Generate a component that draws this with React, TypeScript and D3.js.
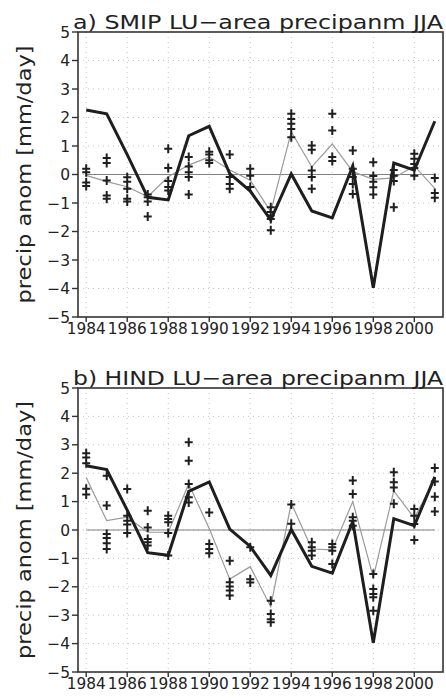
import React from "react";
import * as d3 from "d3";

const years = [1984, 1985, 1986, 1987, 1988, 1989, 1990, 1991, 1992, 1993, 1994, 1995, 1996, 1997, 1998, 1999, 2000, 2001];
const obs = [2.26, 2.13, 0.7, -0.8, -0.89, 1.36, 1.69, 0.03, -0.58, -1.6, 0.02, -1.28, -1.52, 0.3, -3.97, 0.4, 0.15, 1.87];
const smipMean = [-0.03, -0.25, -0.43, -0.78, -0.08, 0.33, 0.62, 0.16, -0.2, -1.3, 1.5, 0.27, 1.07, 0.1, -0.17, -0.12, 0.3, -0.49];
const hindMean = [1.85, 0.33, 0.45, -0.08, -0.08, 1.62, 0.05, -1.73, -1.29, -2.7, 0.95, -0.67, -0.7, 1.0, -1.67, 1.38, 0.42, 1.8];

const smipMembers = [
  [0.2, 0.08, -0.28, -0.4],
  [0.58, 0.4, -0.21, -0.74, -0.85],
  [-0.1, -0.25, -0.5, -0.85, -0.95],
  [-0.7, -0.8, -0.95, -1.47],
  [0.9, 0.23, -0.23, -0.44, -0.56],
  [0.61, 0.28, 0.08, -0.09, -0.7],
  [0.8, 0.7, 0.5, 0.4],
  [0.7, -0.09, -0.33, -0.5],
  [0.2, -0.04, -0.44],
  [-1.15, -1.32, -1.44, -1.56, -1.96],
  [2.13, 1.95, 1.78, 1.6, 1.31],
  [1.02, 0.87, 0.14, -0.09, -0.5],
  [2.13, 1.54, 0.61, 0.47],
  [0.84, 0.2, -0.09, -0.33, -0.68],
  [0.43, -0.05, -0.25, -0.45, -0.7],
  [0.16, -0.04, -0.23, -1.15],
  [0.73, 0.55, 0.37, 0.23, -0.04],
  [-0.12, -0.65, -0.82],
];

const hindMembers = [
  [2.7, 2.55, 2.35, 1.45, 1.25],
  [1.91, 0.86, -0.14, -0.28, -0.47, -0.67],
  [1.44, 0.5, 0.33, 0.19, -0.11],
  [0.68, 0.09, -0.32, -0.43, -0.55],
  [0.5, 0.39, 0.27, -0.11, -0.9],
  [3.09, 2.44, 1.62, 1.15, 0.97],
  [0.62, -0.49, -0.67, -0.82],
  [-1.08, -1.84, -1.99, -2.13, -2.31],
  [-0.61, -1.73, -1.85],
  [-2.49, -2.96, -3.14, -3.25],
  [0.9, 0.22],
  [-0.43, -0.61, -0.73, -0.9],
  [-0.49, -0.61, -0.73, -1.2],
  [1.74, 1.27, 0.45, 0.33, 0.15],
  [-1.55, -2.08, -2.25, -2.37, -2.84],
  [2.03, 1.68, 1.5, 0.92],
  [0.74, 0.5, 0.21, -0.35],
  [2.18, 1.71, 1.17, 0.65],
];

const yTicks = [-5, -4, -3, -2, -1, 0, 1, 2, 3, 4, 5];
const xTicks = [1984, 1986, 1988, 1990, 1992, 1994, 1996, 1998, 2000];
const titleA = "a) SMIP LU\u2212area precipanm JJA";
const titleB = "b) HIND LU\u2212area precipanm JJA";
const yLabel = "precip anom [mm/day]";

const FONT = "DejaVu Sans, sans-serif";
const LEFT = 78;
const RIGHT = 443;

function fmt(v: number) {
  return v < 0 ? "\u2212" + Math.abs(v) : String(v);
}

function Panel({ top, bottom, title, mean, members }: { top: number; bottom: number; title: string; mean: number[]; members: number[][] }) {
  const x = d3.scaleLinear().domain([1983.6, 2001.4]).range([LEFT, RIGHT]);
  const y = d3.scaleLinear().domain([-5, 5]).range([bottom, top]);
  const line = d3
    .line<number>()
    .x((_, i) => x(years[i]))
    .y((d) => y(d));
  const cross = (cx: number, cy: number) => `M${cx - 4},${cy}H${cx + 4}M${cx},${cy - 4.5}V${cy + 4.5}`;
  const crossPath = members
    .map((arr, i) => arr.map((v) => cross(x(years[i]), y(v))).join(""))
    .join("");
  const mid = (top + bottom) / 2;
  return (
    <g>
      {yTicks.slice(1, -1).map((t) => (
        <line key={"gy" + t} x1={LEFT} x2={RIGHT} y1={y(t)} y2={y(t)} stroke="#c4c4c4" strokeWidth={1} strokeDasharray="1,4" />
      ))}
      {xTicks.map((t) => (
        <line key={"gx" + t} x1={x(t)} x2={x(t)} y1={top} y2={bottom} stroke="#c4c4c4" strokeWidth={1} strokeDasharray="1,4" />
      ))}
      <line x1={x(1984)} x2={x(2001)} y1={y(0)} y2={y(0)} stroke="#808080" strokeWidth={1.2} />
      <path d={line(mean) || ""} fill="none" stroke="#9a9a9a" strokeWidth={1.2} />
      <path d={line(obs) || ""} fill="none" stroke="#1e1e1e" strokeWidth={3} strokeLinejoin="miter" />
      <path d={crossPath} fill="none" stroke="#1e1e1e" strokeWidth={2} />
      <rect x={LEFT} y={top} width={RIGHT - LEFT} height={bottom - top} fill="none" stroke="#333" strokeWidth={1.6} />
      {yTicks.map((t) => (
        <g key={"yt" + t}>
          <line x1={LEFT - 6} x2={LEFT} y1={y(t)} y2={y(t)} stroke="#333" strokeWidth={1.4} />
          <text x={LEFT - 8} y={y(t)} dy="0.36em" textAnchor="end" fontFamily={FONT} fontSize={15.5} fill="#222">
            {fmt(t)}
          </text>
        </g>
      ))}
      {xTicks.map((t) => (
        <g key={"xt" + t}>
          <line x1={x(t)} x2={x(t)} y1={bottom} y2={bottom + 5} stroke="#333" strokeWidth={1.4} />
          <text x={x(t)} y={bottom + 17} textAnchor="middle" fontFamily={FONT} fontSize={15.5} fill="#222" textLength={39} lengthAdjust="spacingAndGlyphs">
            {String(t)}
          </text>
        </g>
      ))}
      <text x={LEFT - 5} y={top - 3} fontFamily={FONT} fontSize={20} fill="#222" textLength={RIGHT - LEFT + 5} lengthAdjust="spacingAndGlyphs">
        {title}
      </text>
      <text
        transform={`translate(31,${mid}) rotate(-90)`}
        textAnchor="middle"
        fontFamily={FONT}
        fontSize={20}
        fill="#222"
        textLength={258}
        lengthAdjust="spacingAndGlyphs"
      >
        {yLabel}
      </text>
    </g>
  );
}

export default function App() {
  return (
    <svg width={446} height={698} style={{ position: "absolute", left: 0, top: 0, background: "#fff" }}>
      <rect width={446} height={698} fill="#fff" />
      <Panel top={32} bottom={317} title={titleA} mean={smipMean} members={smipMembers} />
      <Panel top={388} bottom={672} title={titleB} mean={hindMean} members={hindMembers} />
    </svg>
  );
}
